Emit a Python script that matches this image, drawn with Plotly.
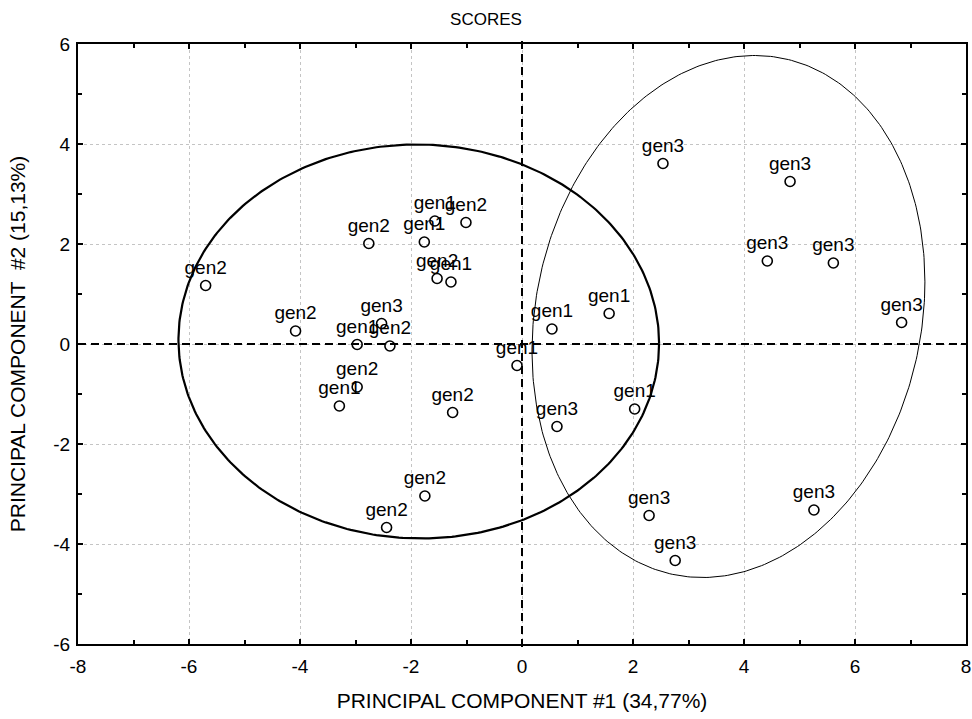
import numpy as np
import plotly.graph_objects as go

# ---- data ----
gen1_x = [-1.57, -1.76, -1.28, -2.97, -0.09, -3.29, 1.57, 0.54, 2.03]
gen1_y = [2.46, 2.04, 1.24, -0.01, -0.43, -1.24, 0.61, 0.30, -1.30]

gen2_x = [-1.01, -2.76, -5.70, -1.53, -4.08, -2.38, -2.97, -1.25, -1.75, -2.44]
gen2_y = [2.43, 2.01, 1.17, 1.31, 0.26, -0.04, -0.86, -1.37, -3.04, -3.67]

gen3_x = [-2.53, 2.54, 4.83, 4.42, 5.61, 6.84, 0.63, 2.29, 2.76, 5.26]
gen3_y = [0.41, 3.61, 3.25, 1.66, 1.62, 0.43, -1.65, -3.43, -4.33, -3.32]

groups = [("gen1", gen1_x, gen1_y), ("gen2", gen2_x, gen2_y), ("gen3", gen3_x, gen3_y)]

# ellipse parameters: center and covariance-like shape matrix (data units)
ell_left_center = [-1.86, 0.05]
ell_left_shape = [[4.33 ** 2, -0.16], [-0.16, 3.94 ** 2]]
ell_right_center = [3.72, 0.55]
ell_right_shape = [[12.53, 2.45], [2.45, 27.25]]

x_ticks = [-8, -6, -4, -2, 0, 2, 4, 6, 8]
y_ticks = [-6, -4, -2, 0, 2, 4, 6]

FONT = "Liberation Sans, Arial, sans-serif"


def ellipse(center, shape, n=400):
    L = np.linalg.cholesky(np.array(shape, dtype=float))
    t = np.linspace(0, 2 * np.pi, n)
    pts = L @ np.vstack([np.cos(t), np.sin(t)])
    return pts[0] + center[0], pts[1] + center[1]


fig = go.Figure()

ex, ey = ellipse(ell_left_center, ell_left_shape)
fig.add_trace(go.Scatter(x=ex, y=ey, mode="lines", line=dict(color="black", width=2.2),
                         hoverinfo="skip", showlegend=False))
ex, ey = ellipse(ell_right_center, ell_right_shape)
fig.add_trace(go.Scatter(x=ex, y=ey, mode="lines", line=dict(color="black", width=1),
                         hoverinfo="skip", showlegend=False))

for name, xs, ys in groups:
    fig.add_trace(go.Scatter(
        x=xs, y=ys, mode="markers+text", text=[name] * len(xs),
        textposition="top center",
        textfont=dict(family=FONT, size=19, color="black"),
        marker=dict(symbol="circle-open", size=10, color="black", line=dict(width=1.6)),
        showlegend=False, name=name))

# dashed zero lines
fig.add_shape(type="line", xref="x", yref="paper", x0=0, x1=0, y0=-0.005, y1=1.012,
              line=dict(color="black", width=2, dash="8px,5px"))
fig.add_shape(type="line", xref="paper", yref="y", x0=0, x1=1, y0=0, y1=0,
              line=dict(color="black", width=2, dash="8px,5px"))

axis_common = dict(
    showline=True, linecolor="black", linewidth=2, mirror="allticks",
    ticks="inside", ticklen=5, tickwidth=1.5, tickcolor="black",
    showgrid=True, gridcolor="#c4c4c4", gridwidth=1, griddash="dot",
    zeroline=False, automargin=False,
    tickfont=dict(family=FONT, size=19, color="black"),
    minor=dict(ticks="inside", ticklen=4, tickwidth=1.5, tickcolor="black", dtick=1, showgrid=False),
)

fig.update_xaxes(range=[-8, 8], tickvals=x_ticks, ticktext=[str(v) for v in x_ticks],
                 ticklabelstandoff=4,
                 title=dict(text="PRINCIPAL COMPONENT #1 (34,77%)",
                            font=dict(family=FONT, size=21, color="black"), standoff=18),
                 **axis_common)
fig.update_yaxes(range=[-6, 6], tickvals=y_ticks, ticktext=[str(v) for v in y_ticks],
                 ticklabelstandoff=2,
                 title=dict(text="PRINCIPAL COMPONENT  #2 (15,13%)",
                            font=dict(family=FONT, size=21, color="black"), standoff=22),
                 **axis_common)

fig.update_layout(
    width=972, height=719,
    margin=dict(l=78, r=6, t=44, b=75),
    paper_bgcolor="white", plot_bgcolor="white",
    title=dict(text="SCORES", x=0.5, xref="container", xanchor="center",
               y=0.974, yref="container", yanchor="middle",
               font=dict(family=FONT, size=17, color="black")),
    font=dict(family=FONT, color="black"),
)

fig.write_html("out.html", config={"displayModeBar": False},
               post_script="document.body.style.margin='0';document.body.style.overflow='hidden';")
